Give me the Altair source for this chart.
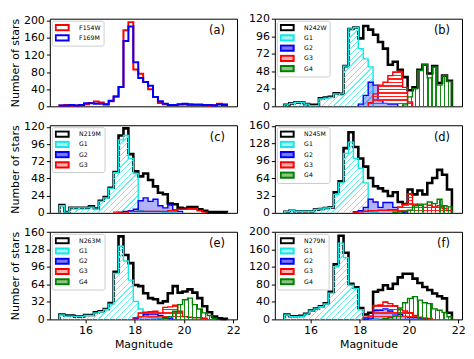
import altair as alt
import pandas as pd

# ---------------- data (counts per 0.2 mag bin) ----------------
BIN_START = 14.94
BIN_WIDTH = 0.2
X_DOMAIN = [14.55, 22.15]
X_TICKS = [16, 18, 20, 22]

# panel (a)
a_F154W = [2, 3, 2, 2, 3, 5, 8, 11, 9, 4, 12, 23, 45, 178, 197, 86, 76, 57, 40, 22,
           8, 5, 3, 3, 4, 4, 3, 3, 3, 3, 2, 3, 6, 5]
a_F169M = [2, 2, 3, 2, 3, 7, 7, 6, 6, 5, 13, 23, 45, 153, 187, 103, 66, 57, 48, 22,
           12, 6, 3, 3, 5, 6, 5, 4, 4, 3, 3, 2, 4, 3]
# panel (b)
b_N242W = [2, 4, 5, 5, 3, 2, 2, 11, 12, 13, 18, 17, 55, 106, 108, 93, 110, 105, 98, 88,
           79, 57, 61, 50, 40, 22, 26, 50, 57, 45, 55, 32, 42, 35]
b_G1 = [2, 4, 5, 5, 3, 1, 1, 10, 11, 12, 17, 17, 55, 106, 108, 79, 65, 54, 0, 0,
        0, 0, 0, 0, 0, 0, 0, 0, 0, 0, 0, 0, 0, 0]
b_G2 = [0, 0, 0, 0, 0, 0, 0, 0, 0, 0, 0, 0, 0, 0, 0, 3, 15, 33, 29, 8,
        4, 3, 3, 0, 0, 0, 0, 0, 0, 0, 0, 0, 0, 0]
b_G3 = [0, 0, 0, 0, 0, 0, 0, 0, 0, 0, 0, 0, 0, 0, 0, 0, 0, 5, 17, 29,
        33, 42, 47, 48, 26, 6, 0, 0, 0, 0, 0, 0, 0, 0]
b_G4 = [0, 0, 0, 0, 0, 0, 0, 0, 0, 0, 0, 0, 0, 0, 0, 0, 0, 0, 0, 0,
        0, 0, 0, 0, 2, 13, 24, 49, 57, 39, 54, 29, 42, 34]
# panel (c)
c_N219M = [11, 1, 7, 7, 7, 7, 9, 6, 17, 22, 35, 57, 108, 118, 82, 58, 51, 55, 46, 37,
           28, 26, 13, 12, 7, 6, 8, 8, 5, 3, 1, 1, 1, 1]
c_G1 = [10, 1, 7, 7, 7, 7, 8, 5, 16, 21, 34, 56, 102, 108, 76, 55, 3, 2, 2, 2,
        2, 1, 1, 1, 0, 0, 0, 0, 0, 0, 0, 0, 0, 0]
c_G2 = [0, 0, 0, 0, 0, 0, 0, 0, 0, 0, 0, 0, 1, 2, 3, 5, 17, 21, 16, 19,
        10, 7, 11, 4, 2, 0, 0, 0, 0, 0, 0, 0, 0, 0]
c_G3 = [0, 0, 0, 0, 0, 0, 0, 0, 0, 0, 0, 1, 0, 0, 2, 2, 2, 2, 2, 2,
        2, 2, 3, 3, 5, 5, 6, 6, 3, 1, 0, 0, 0, 0]
# panel (d)
d_N245M = [2, 4, 3, 3, 3, 3, 6, 7, 9, 10, 38, 58, 119, 148, 121, 100, 85, 64, 49, 45,
           40, 31, 38, 20, 16, 43, 34, 41, 34, 55, 64, 79, 70, 43]
d_G1 = [2, 4, 3, 3, 3, 3, 6, 7, 9, 10, 34, 55, 109, 130, 100, 82, 55, 2, 1, 0,
        0, 0, 0, 0, 0, 0, 0, 0, 0, 0, 0, 0, 0, 0]
d_G2 = [0, 0, 0, 0, 0, 0, 0, 0, 0, 0, 0, 0, 0, 0, 2, 4, 10, 25, 20, 10,
        19, 19, 10, 3, 1, 0, 0, 0, 0, 0, 0, 0, 0, 0]
d_G3 = [0, 0, 0, 0, 0, 0, 0, 0, 0, 0, 0, 0, 0, 0, 1, 2, 3, 4, 4, 5,
        5, 6, 6, 11, 16, 35, 16, 14, 10, 14, 11, 13, 8, 4]
d_G4 = [0, 0, 0, 0, 0, 0, 0, 0, 0, 0, 0, 0, 0, 0, 0, 0, 0, 0, 0, 0,
        0, 0, 1, 2, 3, 5, 13, 16, 16, 20, 17, 25, 13, 11]
# panel (e)
e_N263M = [9, 7, 7, 5, 5, 8, 8, 13, 15, 19, 30, 87, 152, 118, 103, 63, 61, 48, 39, 37,
           30, 33, 48, 61, 49, 51, 55, 49, 39, 24, 13, 5, 2, 1]
e_G1 = [8, 6, 6, 5, 5, 7, 7, 12, 14, 18, 28, 84, 134, 107, 72, 33, 19, 9, 4, 3,
        2, 1, 0, 0, 0, 0, 0, 0, 0, 0, 0, 0, 0, 0]
e_G2 = [0, 0, 0, 0, 0, 0, 0, 0, 0, 0, 0, 0, 0, 0, 0, 2, 5, 9, 10, 10,
        7, 4, 2, 0, 0, 0, 0, 0, 0, 0, 0, 0, 0, 0]
e_G3 = [0, 0, 0, 0, 0, 0, 0, 0, 0, 0, 0, 0, 0, 0, 0, 3, 12, 13, 14, 15,
        12, 22, 23, 26, 15, 5, 4, 3, 3, 2, 0, 0, 0, 0]
e_G4 = [0, 0, 0, 0, 0, 0, 0, 0, 0, 0, 0, 0, 0, 0, 0, 0, 0, 0, 0, 0,
        0, 2, 5, 15, 27, 36, 39, 27, 19, 12, 7, 2, 0, 0]
# panel (f)
f_N279N = [11, 7, 7, 8, 13, 20, 25, 30, 37, 63, 126, 191, 152, 81, 73, 26, 11, 15, 63, 67,
           78, 70, 81, 96, 104, 104, 93, 83, 74, 67, 59, 53, 48, 15]
f_G1 = [10, 6, 6, 7, 12, 19, 24, 29, 35, 60, 120, 174, 141, 78, 70, 22, 3, 2, 1, 0,
        0, 0, 0, 0, 0, 0, 0, 0, 0, 0, 0, 0, 0, 0]
f_G2 = [0, 0, 0, 0, 0, 0, 0, 0, 0, 0, 0, 0, 0, 0, 0, 0, 1, 3, 20, 21,
        24, 19, 13, 11, 7, 4, 4, 3, 2, 0, 0, 0, 0, 0]
f_G3 = [0, 0, 0, 0, 0, 0, 0, 0, 0, 0, 0, 0, 0, 0, 0, 0, 5, 8, 32, 33,
        40, 36, 31, 22, 19, 15, 9, 5, 3, 2, 0, 0, 0, 0]
f_G4 = [0, 0, 0, 0, 0, 0, 0, 0, 0, 0, 0, 0, 0, 0, 0, 0, 0, 0, 0, 0,
        2, 4, 8, 26, 38, 48, 52, 44, 38, 36, 24, 21, 16, 6]

# ---------------- styling ----------------
W, H = 188, 88
FONT = "DejaVu Sans"
CLEAR = "rgba(255,255,255,0)"
LEGEND_SHAPE = "M-2.17,-0.87H2.17V0.87H-2.17Z"

STYLES = {
    # kind: (edge colour, line width, hatch kind, hatch colour, legend fill)
    "F154W": ("#ff0000", 2.0, None, None, "white"),
    "F169M": ("#0000ff", 2.0, None, None, "white"),
    "total": ("black", 2.6, None, None, "white"),
    "G1": ("#12e6e6", 1.4, "diag", "#6cefef", "#aaf3f3"),
    "G2": ("#0000ff", 1.4, "dots", "#0000ff", "#7a7aee"),
    "G3": ("#ff0000", 1.4, "h", "#ff2020", "#ffb0b0"),
    "G4": ("#008000", 1.4, "v", "#108a10", "#8cc48c"),
}


def bin_edges(n):
    return [BIN_START + BIN_WIDTH * i for i in range(n + 1)]


def step_frames(vals):
    e = bin_edges(len(vals))
    nz = [i for i, v in enumerate(vals) if v > 0]
    f, l = nz[0], nz[-1]
    area = [(e[i], vals[i]) for i in range(f, l + 1)] + [(e[l + 1], vals[l])]
    line = [(e[f], 0)] + area + [(e[l + 1], 0)]
    adf = pd.DataFrame(area, columns=["x", "y"])
    ldf = pd.DataFrame(line, columns=["x", "y"])
    ldf["o"] = range(len(ldf))
    return adf, ldf, e[f], e[l + 1], max(vals)


def hatch_fill(kind, color, wpx, hpx):
    if kind == "diag":
        r = hpx / wpx
        k = (1 + r) / (1 + r * r)
        x2, y2 = k, k * r
        n, frac = (wpx + hpx) / 5.8, 0.2
    elif kind == "h":
        x2, y2 = 0, 1
        n, frac = hpx / 3.4, 0.38
    else:
        x2, y2 = 1, 0
        n, frac = wpx / 4.3, 0.3
    n = max(1, int(round(n)))
    stops = []
    for j in range(n):
        a, b, c = j / n, (j + frac) / n, (j + 1) / n
        stops += [alt.GradientStop(color=color, offset=a),
                  alt.GradientStop(color=color, offset=b),
                  alt.GradientStop(color=CLEAR, offset=b),
                  alt.GradientStop(color=CLEAR, offset=c)]
    return alt.LinearGradient(gradient="linear", stops=stops, x1=0, y1=0, x2=x2, y2=y2)


def panel(tag, ymax, yticks, series, show_x, show_ytitle):
    xscale = alt.Scale(domain=X_DOMAIN, nice=False, zero=False)
    yscale = alt.Scale(domain=[0, ymax], nice=False, zero=True)
    if show_x:
        xenc = alt.X("x:Q", scale=xscale,
                     axis=alt.Axis(values=X_TICKS, title="Magnitude", format="d"))
    else:
        xenc = alt.X("x:Q", scale=xscale, axis=None)
    yaxis = alt.Axis(values=yticks, title="Number of stars") if show_ytitle else \
        alt.Axis(values=yticks, title=None)
    yenc = alt.Y("y:Q", scale=yscale, axis=yaxis)

    layers = []
    names, strokes, fills = [], [], []
    for name, kind, vals in series:
        color, lw, hatch, hcolor, lfill = STYLES[kind]
        names.append(name)
        strokes.append(color)
        fills.append(lfill)
        adf, ldf, x0, x1, vmax = step_frames(vals)
        wpx = (x1 - x0) / (X_DOMAIN[1] - X_DOMAIN[0]) * W
        hpx = vmax / ymax * H
        if hatch == "dots":
            layers.append(alt.Chart(adf).mark_area(
                interpolate="step-after", fill=hcolor, fillOpacity=0.3
            ).encode(x=xenc, y=yenc))
        elif hatch is not None:
            layers.append(alt.Chart(adf).mark_area(
                interpolate="step-after", fill=hatch_fill(hatch, hcolor, wpx, hpx)
            ).encode(x=xenc, y=yenc))
        layers.append(alt.Chart(ldf).mark_line(
            interpolate="step-after", color=color, strokeWidth=lw, strokeJoin="miter"
        ).encode(x=xenc, y=yenc, order="o:Q"))

    legend = alt.Legend(
        title=None, orient="top-left", offset=2, padding=3,
        labelFont=FONT, labelFontSize=6.2, labelColor="black", labelOffset=13,
        symbolType=LEGEND_SHAPE, symbolSize=36, symbolStrokeWidth=2,
        symbolOffset=3.4, symbolOpacity=1, rowPadding=2.3, clipHeight=8,
        fillColor="white", strokeColor="#cccccc", cornerRadius=2,
    )
    ldata = pd.DataFrame({"series": names, "x": [BIN_START] * len(names),
                          "y": [0] * len(names)})
    layers.append(alt.Chart(ldata).mark_point(
        shape=LEGEND_SHAPE, filled=True, opacity=0
    ).encode(
        x=xenc, y=yenc,
        fill=alt.Fill("series:N", scale=alt.Scale(domain=names, range=fills), legend=legend),
        stroke=alt.Stroke("series:N", scale=alt.Scale(domain=names, range=strokes), legend=legend),
    ))
    layers.append(alt.Chart(pd.DataFrame({"t": [tag]})).mark_text(
        align="right", baseline="middle", font=FONT, fontSize=11.5, color="black"
    ).encode(text="t:N", x=alt.value(W - 12), y=alt.value(12.5)))
    return alt.layer(*layers).properties(width=W, height=H)


panels = [
    panel("(a)", 205, [0, 40, 80, 120, 160, 200],
          [("F154W", "F154W", a_F154W), ("F169M", "F169M", a_F169M)], False, True),
    panel("(b)", 120, [0, 24, 48, 72, 96, 120],
          [("N242W", "total", b_N242W), ("G1", "G1", b_G1), ("G2", "G2", b_G2),
           ("G3", "G3", b_G3), ("G4", "G4", b_G4)], False, False),
    panel("(c)", 122.4, [0, 24, 48, 72, 96, 120],
          [("N219M", "total", c_N219M), ("G1", "G1", c_G1), ("G2", "G2", c_G2),
           ("G3", "G3", c_G3)], False, True),
    panel("(d)", 161, [0, 32, 64, 96, 128, 160],
          [("N245M", "total", d_N245M), ("G1", "G1", d_G1), ("G2", "G2", d_G2),
           ("G3", "G3", d_G3), ("G4", "G4", d_G4)], False, False),
    panel("(e)", 160.5, [0, 32, 64, 96, 128, 160],
          [("N263M", "total", e_N263M), ("G1", "G1", e_G1), ("G2", "G2", e_G2),
           ("G3", "G3", e_G3), ("G4", "G4", e_G4)], True, True),
    panel("(f)", 200, [0, 40, 80, 120, 160, 200],
          [("N279N", "total", f_N279N), ("G1", "G1", f_G1), ("G2", "G2", f_G2),
           ("G3", "G3", f_G3), ("G4", "G4", f_G4)], True, False),
]

chart = alt.concat(
    *panels, columns=2, spacing=alt.RowColnumber(row=19, column=38), bounds="flush"
).resolve_scale(
    fill="independent", stroke="independent"
).properties(
    padding={"left": 1, "top": 3, "right": 0, "bottom": 0}
).configure_view(
    stroke="black", strokeWidth=1
).configure_axis(
    labelFont=FONT, labelFontSize=11, labelColor="black",
    titleFont=FONT, titleFontSize=11, titleFontWeight="normal", titleColor="black",
    tickColor="black", tickSize=3.5, tickWidth=1, domain=False, grid=False,
    labelPadding=2, titlePadding=3,
)

chart.save("out.html", embed_options={"renderer": "svg", "actions": False})
